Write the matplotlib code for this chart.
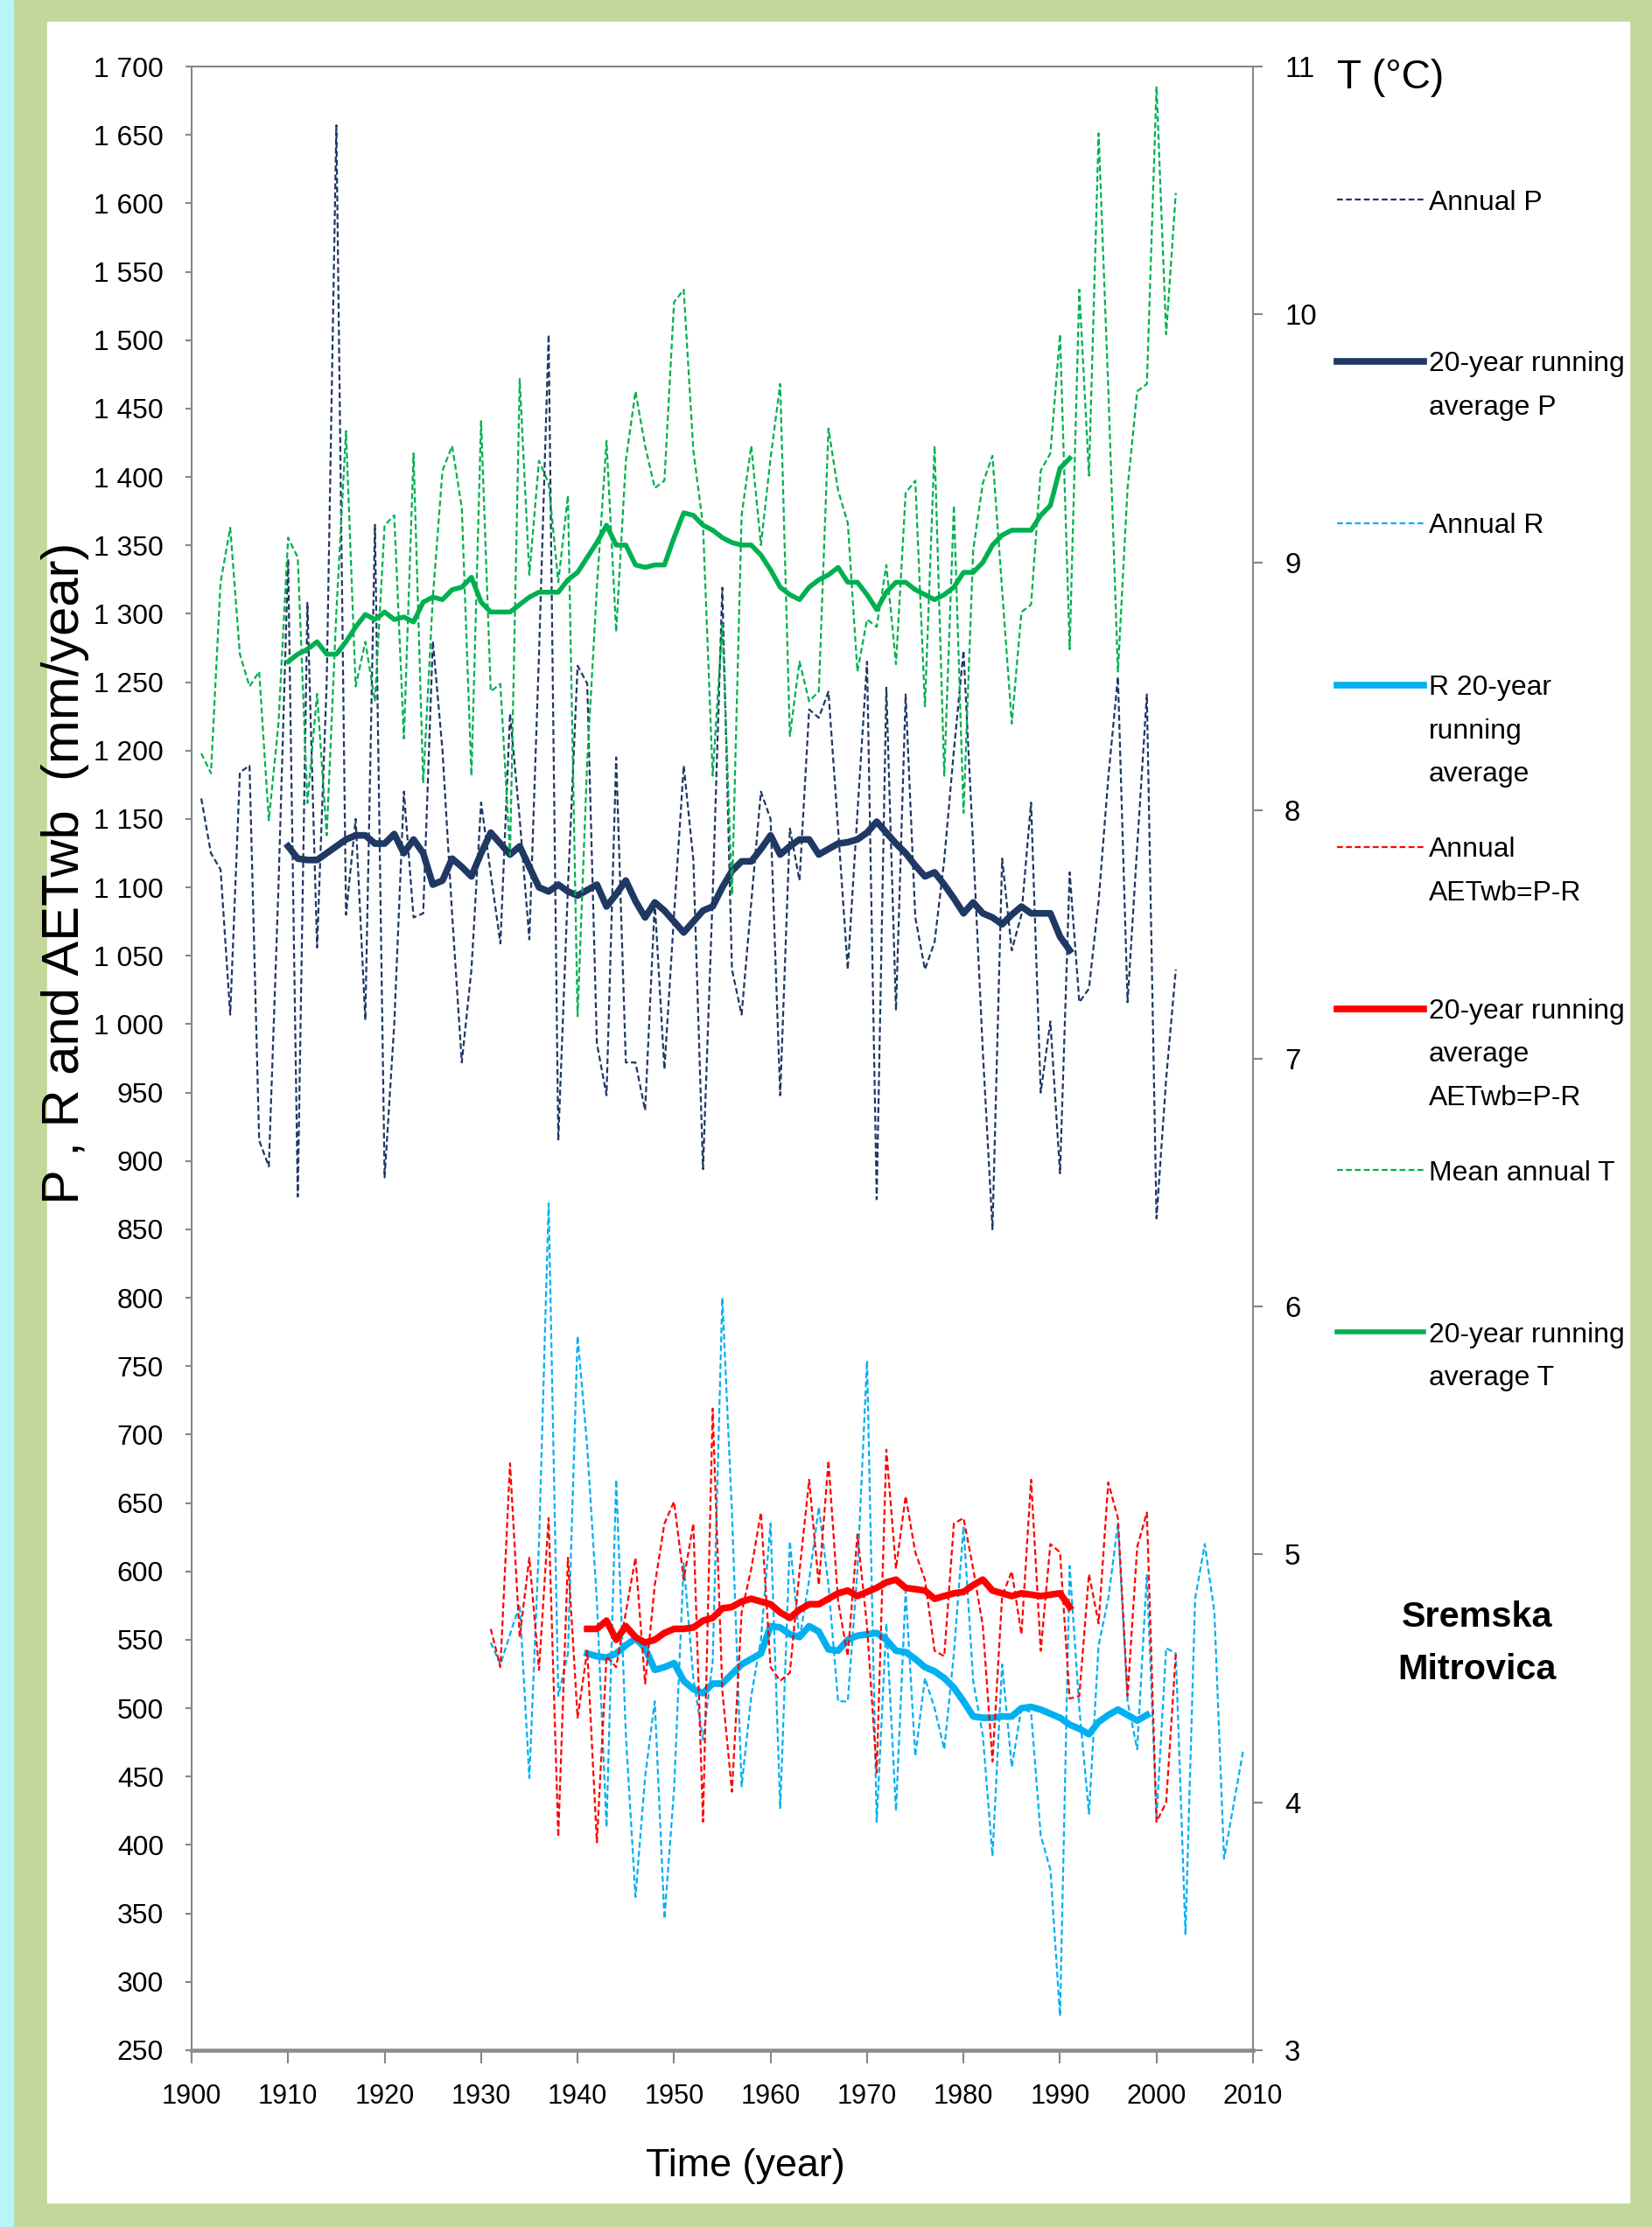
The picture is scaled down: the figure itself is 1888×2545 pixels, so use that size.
import matplotlib
matplotlib.use('Agg')
import matplotlib.pyplot as plt
from matplotlib import font_manager
from matplotlib.lines import Line2D
from matplotlib.patches import Rectangle
from matplotlib.ticker import FuncFormatter, MultipleLocator
import numpy as np

# ---- data (mm/year, deg C) ----
p_years = np.arange(1901, 2003)
p_annual = [1165, 1125, 1113, 1007, 1184, 1189, 915, 896, 1100, 1340,
            874, 1308, 1056, 1250, 1657, 1080, 1150, 1003, 1365, 888,
            1000, 1170, 1078, 1081, 1280, 1200, 1080, 972, 1040, 1162,
            1110, 1059, 1227, 1150, 1062, 1270, 1504, 915, 1100, 1262,
            1249, 986, 948, 1195, 972, 972, 937, 1089, 967, 1080,
            1189, 1120, 894, 1094, 1319, 1040, 1007, 1089, 1170, 1150,
            948, 1143, 1105, 1230, 1224, 1243, 1143, 1040, 1154, 1265,
            872, 1246, 1010, 1241, 1078, 1040, 1060, 1120, 1200, 1273,
            1130, 980, 850, 1121, 1054, 1080, 1162, 950, 1002, 891,
            1111, 1016, 1026, 1090, 1180, 1254, 1016, 1130, 1241, 858,
            960, 1040]

t_years = np.arange(1901, 2003)
t_annual = [8.23, 8.15, 8.92, 9.14, 8.63, 8.50, 8.56, 7.96, 8.35, 9.10,
            9.02, 8.03, 8.47, 7.90, 8.80, 9.53, 8.50, 8.68, 8.44, 9.15,
            9.19, 8.29, 9.44, 8.11, 8.86, 9.37, 9.47, 9.22, 8.14, 9.57,
            8.48, 8.51, 7.82, 9.74, 8.95, 9.41, 9.32, 8.92, 9.27, 7.17,
            8.20, 8.90, 9.49, 8.72, 9.41, 9.69, 9.47, 9.30, 9.33, 10.05,
            10.10, 9.45, 9.15, 8.14, 8.75, 7.66, 9.19, 9.47, 9.07, 9.42,
            9.72, 8.30, 8.60, 8.44, 8.48, 9.54, 9.29, 9.16, 8.56, 8.77,
            8.74, 8.99, 8.59, 9.28, 9.33, 8.42, 9.47, 8.14, 9.23, 7.99,
            9.05, 9.32, 9.43, 8.89, 8.35, 8.80, 8.83, 9.37, 9.44, 9.92,
            8.65, 10.10, 9.35, 10.73, 9.70, 8.56, 9.30, 9.69, 9.72, 10.92,
            9.92, 10.49]

p_avg_years = np.arange(1910, 1992)
p_avg = [1130, 1121, 1120, 1120, 1125, 1130, 1135, 1138, 1138, 1132,
         1132, 1139, 1125, 1135, 1125, 1102, 1105, 1121, 1115, 1108,
         1125, 1140, 1132, 1124, 1130, 1115, 1100, 1097, 1102, 1097,
         1094, 1098, 1102, 1086, 1095, 1105, 1090, 1078, 1089, 1083,
         1075, 1067, 1075, 1083, 1086, 1100, 1112, 1119, 1119, 1128,
         1138, 1124, 1130, 1135, 1135, 1124, 1128, 1132, 1133, 1135,
         1140, 1148, 1140, 1132, 1125, 1116, 1108, 1111, 1102, 1092,
         1081, 1089, 1081, 1078, 1073, 1080, 1086, 1081, 1081, 1081,
         1064, 1054]

t_avg_years = np.arange(1910, 1992)
t_avg = [8.60, 8.63, 8.65, 8.68, 8.63, 8.63, 8.68, 8.74, 8.79, 8.77,
         8.80, 8.77, 8.78, 8.76, 8.84, 8.86, 8.85, 8.89, 8.90, 8.94,
         8.84, 8.80, 8.80, 8.80, 8.83, 8.86, 8.88, 8.88, 8.88, 8.93,
         8.96, 9.02, 9.08, 9.15, 9.07, 9.07, 8.99, 8.98, 8.99, 8.99,
         9.10, 9.20, 9.19, 9.15, 9.13, 9.10, 9.08, 9.07, 9.07, 9.03,
         8.97, 8.90, 8.87, 8.85, 8.90, 8.93, 8.95, 8.98, 8.92, 8.92,
         8.87, 8.81, 8.88, 8.92, 8.92, 8.89, 8.87, 8.85, 8.87, 8.90,
         8.96, 8.96, 9.00, 9.07, 9.11, 9.13, 9.13, 9.13, 9.19, 9.23,
         9.38, 9.42]

r_years = np.arange(1931, 2010)
r_annual = [548, 532, 554, 576, 449, 620, 869, 509, 540, 772,
            691, 578, 413, 667, 481, 362, 450, 505, 346, 441,
            606, 522, 477, 534, 800, 643, 443, 509, 550, 635,
            427, 622, 550, 594, 647, 590, 505, 505, 600, 754,
            417, 562, 425, 586, 465, 522, 500, 470, 540, 633,
            520, 480, 392, 532, 457, 500, 497, 407, 382, 275,
            604, 500, 423, 546, 580, 635, 505, 470, 598, 420,
            544, 540, 335, 580, 620, 570, 390, 430, 470]

aet_years = np.arange(1931, 2003)
aet_annual = [558, 530, 679, 552, 610, 528, 639, 406, 610, 493,
              542, 402, 538, 530, 570, 610, 518, 590, 635, 651,
              594, 635, 417, 719, 513, 439, 570, 602, 643, 530,
              520, 526, 600, 667, 590, 681, 578, 538, 627, 560,
              453, 689, 602, 655, 614, 594, 542, 538, 635, 639,
              602, 560, 461, 582, 600, 554, 667, 542, 620, 614,
              507, 509, 598, 562, 665, 639, 509, 618, 643, 417,
              431, 540]

r_avg_years = np.arange(1941, 2000)
r_avg = [540, 538, 537, 540, 546, 551, 544, 528, 530, 533,
         520, 514, 511, 518, 518, 525, 532, 536, 540, 560,
         559, 554, 552, 560, 556, 543, 542, 550, 553, 554,
         555, 550, 542, 541, 536, 530, 527, 522, 515, 505,
         494, 493, 493, 494, 494, 500, 501, 499, 496, 493,
         488, 485, 481, 490, 495, 499, 495, 491, 495]

aet_avg_years = np.arange(1941, 1992)
aet_avg = [558, 558, 564, 550, 560, 552, 548, 550, 555, 558,
           558, 559, 564, 566, 573, 574, 578, 580, 578, 576,
           570, 566, 572, 576, 576, 580, 584, 586, 582, 585,
           588, 592, 594, 588, 587, 586, 580, 582, 584, 585,
           590, 594, 586, 584, 582, 584, 583, 582, 583, 584,
           574]

legend_labels = ['Annual P', '20-year running\naverage P', 'Annual R',
                 'R 20-year\nrunning\naverage', 'Annual\nAETwb=P-R',
                 '20-year running\naverage\nAETwb=P-R', 'Mean annual T',
                 '20-year running\naverage T']

NAVY = '#1F3864'
BLUE = '#00B0F0'
RED = '#FF0000'
GREEN = '#00B050'
GRAY = '#868686'
DASH = (0, (3, 1.6))

names = {f.name for f in font_manager.fontManager.ttflist}
if 'Liberation Sans Narrow' in names:
    NARROW, K = 'Liberation Sans Narrow', 1.0
else:
    NARROW, K = 'Liberation Sans', 0.85
plt.rcParams['font.family'] = [NARROW, 'DejaVu Sans']

W, H = 1888, 2545
fig = plt.figure(figsize=(W / 100, H / 100), dpi=100)
fig.patch.set_facecolor('#C4D79B')


def fx(px):
    return px / W


def fy(py):
    return 1 - py / H


fig.add_artist(Rectangle((0, 0), fx(15), 1, transform=fig.transFigure,
                         color='#B5F6F8', zorder=-5))
fig.add_artist(Rectangle((fx(54), fy(2517)), fx(1862) - fx(54), fy(25) - fy(2517),
                         transform=fig.transFigure, color='white', zorder=-5))

ax = fig.add_axes([fx(219), fy(2343), fx(1432) - fx(219), fy(76) - fy(2343)])
ax.set_facecolor('none')
ax2 = ax.twinx()

ax.plot(p_years, p_annual, color=NAVY, lw=1.6, ls=DASH)
ax.plot(p_avg_years, p_avg, color=NAVY, lw=5.5)
ax.plot(r_years, r_annual, color=BLUE, lw=1.6, ls=DASH)
ax.plot(r_avg_years, r_avg, color=BLUE, lw=5.5)
ax.plot(aet_years, aet_annual, color=RED, lw=1.6, ls=DASH)
ax.plot(aet_avg_years, aet_avg, color=RED, lw=5.5)
ax2.plot(t_years, t_annual, color=GREEN, lw=1.6, ls=DASH)
ax2.plot(t_avg_years, t_avg, color=GREEN, lw=4)

ax.set_xlim(1900, 2010)
ax.set_ylim(250, 1700)
ax.set_xticks(range(1900, 2011, 10))
ax.yaxis.set_major_locator(MultipleLocator(50))
ax.yaxis.set_major_formatter(FuncFormatter(lambda v, _: f'{int(v):,}'.replace(',', ' ')))
ax2.set_ylim(3, 11)
ax2.set_yticks(range(3, 12))

for s in ['left', 'top']:
    ax.spines[s].set_color(GRAY)
    ax.spines[s].set_linewidth(1.5)
ax.spines['bottom'].set_color('#8C8C8C')
ax.spines['bottom'].set_linewidth(3.3)
ax.spines['right'].set_visible(False)
for s in ['left', 'top', 'bottom']:
    ax2.spines[s].set_visible(False)
ax2.spines['right'].set_color(GRAY)
ax2.spines['right'].set_linewidth(1.5)

ax.tick_params(axis='y', direction='out', length=5, width=1.5, color=GRAY,
               pad=18, labelsize=27 * K)
ax.tick_params(axis='x', direction='out', length=11, width=1.5, color=GRAY,
               pad=16, labelsize=26 * K)
ax2.tick_params(axis='y', direction='out', length=8, width=1.5, color=GRAY,
                pad=18, labelsize=28 * K)

ax.set_ylabel('P , R and AETwb  (mm/year)', family=['Liberation Sans', 'DejaVu Sans'],
              fontsize=43, va='center')
ax.yaxis.set_label_coords((75 - 219) / 1213, (2343 - 998) / 2267)
ax.set_xlabel('Time (year)', fontsize=38 * K, va='center')
ax.xaxis.set_label_coords((852 - 219) / 1213, (2343 - 2475) / 2267)
ax2.set_ylabel('T (°C)', rotation=0, fontsize=39 * K, ha='left', va='center')
ax2.yaxis.set_label_coords((1528 - 219) / 1213, (2343 - 89) / 2267)

# legend, built by hand: the handle sits level with the first line of its label
colors = [NAVY, NAVY, BLUE, BLUE, RED, RED, GREEN, GREEN]
widths = [1.6, 5.5, 1.6, 5.5, 1.6, 5.5, 1.6, 4]
styles = [DASH, '-', DASH, '-', DASH, '-', DASH, '-']
for i, lab in enumerate(legend_labels):
    y = 228 + 184.9 * i
    fig.add_artist(Line2D([fx(1528), fx(1627)], [fy(y), fy(y)], transform=fig.transFigure,
                          color=colors[i], lw=widths[i], ls=styles[i]))
    for k, line in enumerate(lab.split('\n')):
        fig.text(fx(1633), fy(y + 49.5 * k), line, fontsize=27 * K,
                 ha='left', va='center_baseline')

fig.text(fx(1688), fy(1878), 'Sremska\nMitrovica', fontsize=35 * K, fontweight='bold',
         ha='center', va='center', linespacing=1.75)

fig.savefig('out.png', dpi=100, facecolor=fig.get_facecolor())
